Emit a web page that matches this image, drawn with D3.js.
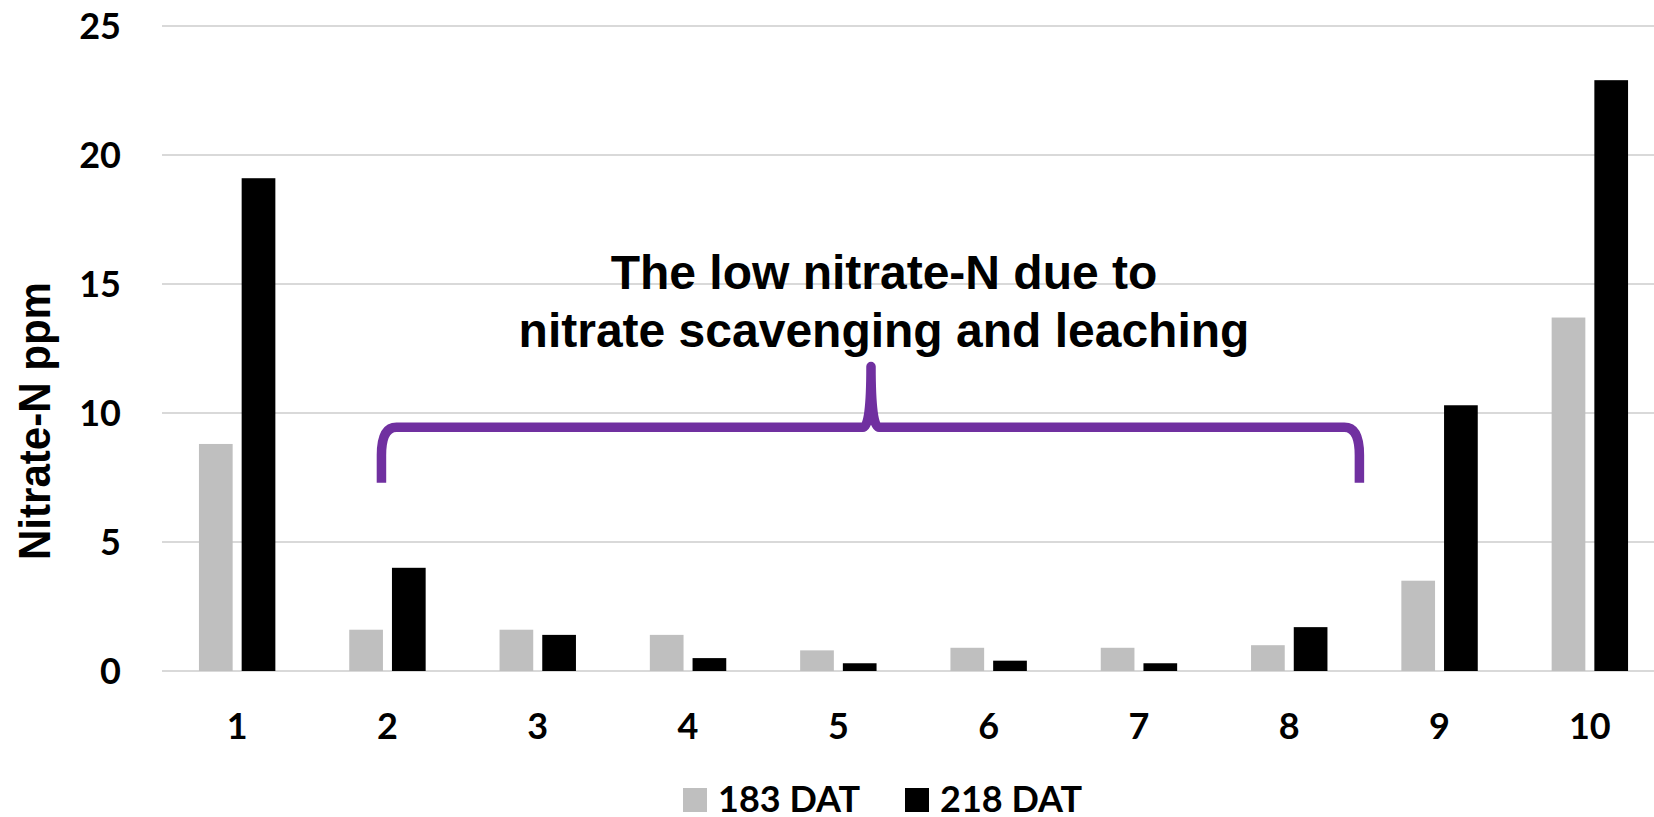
<!DOCTYPE html>
<html>
<head>
<meta charset="utf-8">
<script src="https://cdn.jsdelivr.net/npm/d3@7"></script>
<style>
  body { margin: 0; background: #fff; }
  svg { display: block; }
</style>
</head>
<body>
<script>
const categories = ['1', '2', '3', '4', '5', '6', '7', '8', '9', '10'];
const seriesNames = ['183 DAT', '218 DAT'];
const dat183 = [8.8, 1.6, 1.6, 1.4, 0.8, 0.9, 0.9, 1.0, 3.5, 13.7];
const dat218 = [19.1, 4.0, 1.4, 0.5, 0.3, 0.4, 0.3, 1.7, 10.3, 22.9];
const yTicks = [0, 5, 10, 15, 20, 25];
const colors = ['#bfbfbf', '#000000'];

const width = 1654;
const height = 817;

const svg = d3.select('body')
  .append('svg')
  .attr('width', width)
  .attr('height', height);

const x = d3.scaleBand()
  .domain(categories)
  .range([162, 1665])
  .padding(0);

const xSub = d3.scaleBand()
  .domain(seriesNames)
  .range([0, x.bandwidth()])
  .paddingInner(0.211)
  .paddingOuter(0.865);

const y = d3.scaleLinear()
  .domain([0, 25])
  .range([671, 26]);

// gridlines
svg.append('g')
  .selectAll('line')
  .data(yTicks)
  .join('line')
  .attr('x1', x.range()[0])
  .attr('x2', x.range()[1])
  .attr('y1', (d) => y(d))
  .attr('y2', (d) => y(d))
  .attr('stroke', '#d9d9d9')
  .attr('stroke-width', 2);

// y tick labels
svg.append('g')
  .style('font', 'bold 36px Lato, sans-serif')
  .selectAll('text')
  .data(yTicks)
  .join('text')
  .attr('x', 121)
  .attr('y', (d) => y(d) + 13)
  .attr('text-anchor', 'end')
  .text((d) => d);

// bars
const rows = categories.map((c, i) => ({ cat: c, values: [dat183[i], dat218[i]] }));

svg.append('g')
  .selectAll('g')
  .data(rows)
  .join('g')
  .attr('transform', (d) => `translate(${x(d.cat)},0)`)
  .selectAll('rect')
  .data((d) => d.values.map((v, j) => ({ key: seriesNames[j], value: v, j })))
  .join('rect')
  .attr('x', (d) => xSub(d.key))
  .attr('width', xSub.bandwidth())
  .attr('y', (d) => y(d.value))
  .attr('height', (d) => y(0) - y(d.value))
  .attr('fill', (d) => colors[d.j]);

// x tick labels
svg.append('g')
  .style('font', 'bold 36px Lato, sans-serif')
  .selectAll('text')
  .data(categories)
  .join('text')
  .attr('x', (d) => x(d) + x.bandwidth() / 2)
  .attr('y', 739)
  .attr('text-anchor', 'middle')
  .text((d) => d);

// y axis title
svg.append('text')
  .attr('transform', 'translate(50,421) rotate(-90)')
  .attr('text-anchor', 'middle')
  .attr('textLength', 278)
  .attr('lengthAdjust', 'spacingAndGlyphs')
  .style('font', 'bold 45px "Liberation Sans", Arial, sans-serif')
  .text('Nitrate-N ppm');

// legend
const legend = svg.append('g')
  .style('font', 'bold 36px Lato, sans-serif');
const legendX = [683, 905];
seriesNames.forEach((name, i) => {
  legend.append('rect')
    .attr('x', legendX[i])
    .attr('y', 788)
    .attr('width', 24)
    .attr('height', 24)
    .attr('fill', colors[i]);
  legend.append('text')
    .attr('x', legendX[i] + 35)
    .attr('y', 812)
    .text(name);
});

// annotation brace
const bx0 = x('2') + x.bandwidth() / 2 - 6;
const bx1 = x('9') - 5;
const bMid = 871;
const yTip = y(7.3);
const yBar = y(9.45);
const yPeak = y(11.8);
const brace = d3.path();
brace.moveTo(bx0, yTip);
brace.lineTo(bx0, yBar + 28);
brace.quadraticCurveTo(bx0, yBar, bx0 + 15, yBar);
brace.lineTo(bMid - 8, yBar);
brace.quadraticCurveTo(bMid, yBar, bMid, yPeak);
brace.quadraticCurveTo(bMid, yBar, bMid + 8, yBar);
brace.lineTo(bx1 - 15, yBar);
brace.quadraticCurveTo(bx1, yBar, bx1, yBar + 28);
brace.lineTo(bx1, yTip);

svg.append('path')
  .attr('d', brace.toString())
  .attr('fill', 'none')
  .attr('stroke', '#7030a0')
  .attr('stroke-width', 9.5)
  .attr('stroke-linejoin', 'round');

const note = svg.append('text')
  .attr('text-anchor', 'middle')
  .style('font', 'bold 48px "Liberation Sans", Arial, sans-serif');
note.append('tspan').attr('x', 884).attr('y', 289).text('The low nitrate-N due to');
note.append('tspan').attr('x', 884).attr('y', 347).text('nitrate scavenging and leaching');
</script>
</body>
</html>
